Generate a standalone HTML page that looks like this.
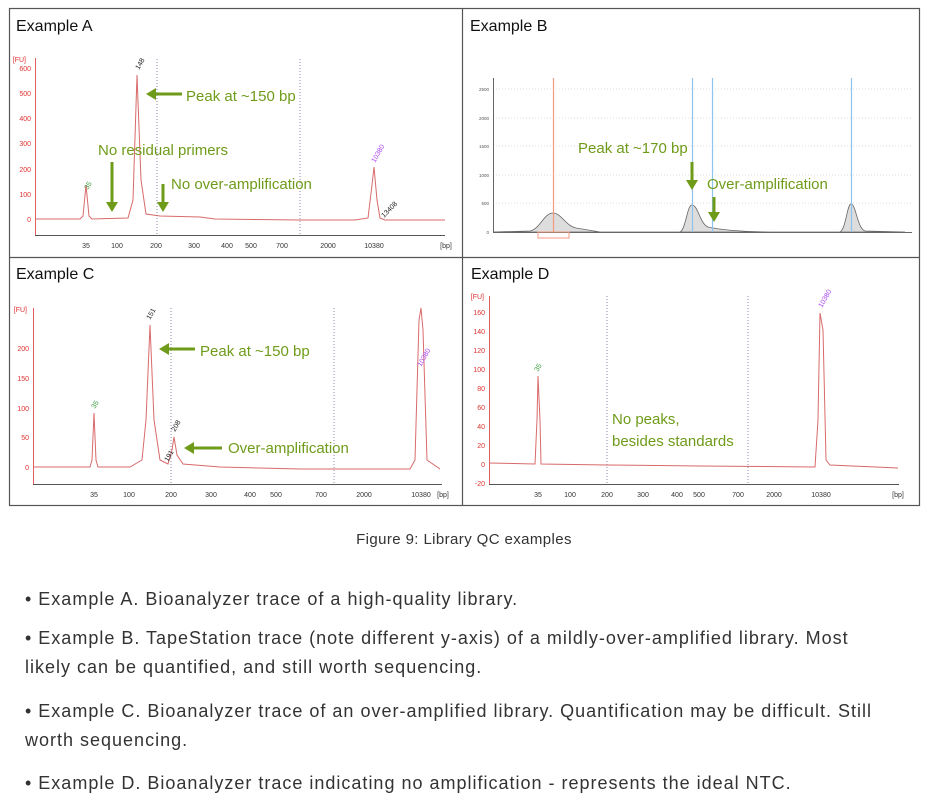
<!DOCTYPE html>
<html><head><meta charset="utf-8"><style>
body{margin:0;background:#fff;width:936px;height:807px;overflow:hidden;font-family:"Liberation Sans",sans-serif;}
.cap{position:absolute;left:0;width:928px;top:531px;text-align:center;font-size:15px;letter-spacing:0.4px;color:#333;}
.b{position:absolute;left:25px;font-size:18px;letter-spacing:1px;color:#333;line-height:29px;width:860px;}
</style></head><body>
<svg width="936" height="520" style="position:absolute;left:0;top:0" font-family="Liberation Sans, sans-serif">
<g fill="none" stroke="#555" stroke-width="1.2">
<rect x="9.5" y="8.5" width="910" height="497"/>
<line x1="462.5" y1="8" x2="462.5" y2="505"/>
<line x1="9" y1="257.5" x2="919" y2="257.5"/>
</g>
<g font-size="16" fill="#111">
<text x="16" y="31">Example A</text><text x="470" y="31">Example B</text>
<text x="16" y="279">Example C</text><text x="471" y="279">Example D</text>
</g>
<!-- A -->
<g stroke="#e06060" stroke-width="1"><line x1="35.5" y1="58" x2="35.5" y2="235"/><line x1="35" y1="235.5" x2="445" y2="235.5" stroke="#555"/></g>
<g font-size="7" fill="#e03030" text-anchor="end"><text x="31" y="71">600</text><text x="31" y="96">500</text><text x="31" y="121">400</text><text x="31" y="146">300</text><text x="31" y="172">200</text><text x="31" y="197">100</text><text x="31" y="222">0</text><text x="26" y="62">[FU]</text></g>
<g font-size="7" fill="#333" text-anchor="middle"><text x="86" y="248">35</text><text x="117" y="248">100</text><text x="156" y="248">200</text><text x="194" y="248">300</text><text x="227" y="248">400</text><text x="251" y="248">500</text><text x="282" y="248">700</text><text x="328" y="248">2000</text><text x="374" y="248">10380</text><text x="446" y="248">[bp]</text></g>
<g stroke="#88a" stroke-dasharray="1,2"><line x1="157" y1="59" x2="157" y2="235"/><line x1="300" y1="59" x2="300" y2="235"/></g>
<path d="M35 219 L80 219 L83 216 L86 185 L89 216 L92 219 L128 218 L133 200 L137 75 L141 180 L146 214 L160 216 L200 217 L215 219 L300 220 L355 220 L368 218 L372 185 L374 167 L377 200 L380 218 L385 220 L445 220" fill="none" stroke="#d86a6a" stroke-width="1"/>
<text x="139" y="70" font-size="7" fill="#222" transform="rotate(-60 139 70)">148</text>
<text x="88" y="190" font-size="7" fill="#393" transform="rotate(-60 88 190)">35</text>
<text x="375" y="163" font-size="7" fill="#a4e" transform="rotate(-60 375 163)">10380</text>
<text x="384" y="218" font-size="7" fill="#222" transform="rotate(-45 384 218)">13408</text>
<g fill="#6f9b1a" font-size="15"><text x="186" y="101">Peak at ~150 bp</text><text x="98" y="155">No residual primers</text><text x="171" y="189">No over-amplification</text></g>
<g stroke="#6f9b1a" stroke-width="3" fill="#6f9b1a"><line x1="182" y1="94" x2="154" y2="94"/><path d="M146 94 L156 88 L156 100Z" stroke="none"/>
<line x1="112" y1="162" x2="112" y2="204"/><path d="M112 212 L106 202 L118 202Z" stroke="none"/>
<line x1="163" y1="184" x2="163" y2="205"/><path d="M163 212 L157 202 L169 202Z" stroke="none"/></g>
<!-- B -->
<g stroke="#ddd" stroke-dasharray="1,2"><line x1="493" y1="89" x2="912" y2="89"/><line x1="493" y1="118" x2="912" y2="118"/><line x1="493" y1="146" x2="912" y2="146"/><line x1="493" y1="175" x2="912" y2="175"/><line x1="493" y1="203" x2="912" y2="203"/></g>
<g stroke="#666"><line x1="493.5" y1="78" x2="493.5" y2="232"/><line x1="493" y1="232.5" x2="912" y2="232.5"/></g>
<g font-size="4.5" fill="#555" text-anchor="end"><text x="489" y="91">2500</text><text x="489" y="120">2000</text><text x="489" y="148">1500</text><text x="489" y="177">1000</text><text x="489" y="205">500</text><text x="489" y="234">0</text></g>
<path d="M493 232 L530 231 C540 229 544 213 553 213 C561 213 566 226 576 228 L600 232 L680 232 C686 229 687 205 692 205 C698 205 700 224 708 227 C716 229 740 232 770 232 L840 232 C846 229 847 204 851 204 C856 204 857 228 865 231 L905 232Z" fill="#ddd" stroke="#666" stroke-width="0.8"/>
<g stroke-width="1.2"><line x1="553.5" y1="78" x2="553.5" y2="232" stroke="#f49a80"/><line x1="692.5" y1="78" x2="692.5" y2="232" stroke="#8cc4ee"/><line x1="712.5" y1="78" x2="712.5" y2="232" stroke="#8cc4ee"/><line x1="851.5" y1="78" x2="851.5" y2="232" stroke="#8cc4ee"/></g>
<rect x="538" y="232" width="31" height="6" fill="none" stroke="#f49a80"/>
<g fill="#6f9b1a" font-size="15"><text x="578" y="153">Peak at ~170 bp</text><text x="707" y="189">Over-amplification</text></g>
<g stroke="#6f9b1a" stroke-width="3" fill="#6f9b1a"><line x1="692" y1="162" x2="692" y2="182"/><path d="M692 190 L686 180 L698 180Z" stroke="none"/>
<line x1="714" y1="197" x2="714" y2="214"/><path d="M714 222 L708 212 L720 212Z" stroke="none"/></g>
<!-- C -->
<g stroke="#e06060"><line x1="33.5" y1="308" x2="33.5" y2="484"/></g><line x1="33" y1="484.5" x2="442" y2="484.5" stroke="#555"/>
<g font-size="7" fill="#e03030" text-anchor="end"><text x="29" y="351">200</text><text x="29" y="381">150</text><text x="29" y="411">100</text><text x="29" y="440">50</text><text x="29" y="470">0</text><text x="27" y="312">[FU]</text></g>
<g font-size="7" fill="#333" text-anchor="middle"><text x="94" y="497">35</text><text x="129" y="497">100</text><text x="171" y="497">200</text><text x="211" y="497">300</text><text x="250" y="497">400</text><text x="276" y="497">500</text><text x="321" y="497">700</text><text x="364" y="497">2000</text><text x="421" y="497">10380</text><text x="443" y="497">[bp]</text></g>
<g stroke="#88a" stroke-dasharray="1,2"><line x1="171" y1="308" x2="171" y2="484"/><line x1="334" y1="308" x2="334" y2="484"/></g>
<path d="M33 467 L90 467 L92 460 L94 413 L96 460 L98 467 L130 467 L142 460 L146 420 L150 325 L154 420 L160 460 L168 464 L172 450 L174 437 L177 455 L183 464 L220 467 L300 469 L410 469 L415 460 L419 320 L421 308 L423 330 L427 460 L440 469" fill="none" stroke="#d86a6a" stroke-width="1"/>
<text x="150" y="320" font-size="7" fill="#222" transform="rotate(-60 150 320)">151</text>
<text x="175" y="432" font-size="7" fill="#222" transform="rotate(-60 175 432)">208</text>
<text x="168" y="462" font-size="7" fill="#222" transform="rotate(-60 168 462)">191</text>
<text x="95" y="409" font-size="7" fill="#393" transform="rotate(-60 95 409)">35</text>
<text x="421" y="367" font-size="7" fill="#a4e" transform="rotate(-60 421 367)">10380</text>
<g fill="#6f9b1a" font-size="15"><text x="200" y="356">Peak at ~150 bp</text><text x="228" y="453">Over-amplification</text></g>
<g stroke="#6f9b1a" stroke-width="3" fill="#6f9b1a"><line x1="195" y1="349" x2="167" y2="349"/><path d="M159 349 L169 343 L169 355Z" stroke="none"/>
<line x1="222" y1="448" x2="192" y2="448"/><path d="M184 448 L194 442 L194 454Z" stroke="none"/></g>
<!-- D -->
<line x1="489.5" y1="296" x2="489.5" y2="484" stroke="#e06060"/><line x1="489" y1="484.5" x2="899" y2="484.5" stroke="#555"/>
<g font-size="7" fill="#e03030" text-anchor="end"><text x="485" y="315">160</text><text x="485" y="334">140</text><text x="485" y="353">120</text><text x="485" y="372">100</text><text x="485" y="391">80</text><text x="485" y="410">60</text><text x="485" y="429">40</text><text x="485" y="448">20</text><text x="485" y="467">0</text><text x="485" y="486">-20</text><text x="484" y="299">[FU]</text></g>
<g font-size="7" fill="#333" text-anchor="middle"><text x="538" y="497">35</text><text x="570" y="497">100</text><text x="607" y="497">200</text><text x="643" y="497">300</text><text x="677" y="497">400</text><text x="699" y="497">500</text><text x="738" y="497">700</text><text x="774" y="497">2000</text><text x="821" y="497">10380</text><text x="898" y="497">[bp]</text></g>
<g stroke="#88a" stroke-dasharray="1,2"><line x1="607" y1="296" x2="607" y2="484"/><line x1="748" y1="296" x2="748" y2="484"/></g>
<path d="M489 463 L535 464 L537 420 L538 376 L540 420 L541 464 L607 465 L700 466 L815 467 L818 420 L820 313 L823 330 L826 460 L830 465 L898 468" fill="none" stroke="#d86a6a" stroke-width="1"/>
<text x="538" y="372" font-size="7" fill="#393" transform="rotate(-60 538 372)">35</text>
<text x="822" y="308" font-size="7" fill="#a4e" transform="rotate(-60 822 308)">10380</text>
<g fill="#6f9b1a" font-size="15"><text x="612" y="424">No peaks,</text><text x="612" y="446">besides standards</text></g>
</svg>
<div class="cap">Figure 9: Library QC examples</div>
<div class="b" style="top:585px">• Example A. Bioanalyzer trace of a high-quality library.</div>
<div class="b" style="top:624px">• Example B. TapeStation trace (note different y-axis) of a mildly-over-amplified library. Most likely can be quantified, and still worth sequencing.</div>
<div class="b" style="top:697px">• Example C. Bioanalyzer trace of an over-amplified library. Quantification may be difficult. Still worth sequencing.</div>
<div class="b" style="top:769px">• Example D. Bioanalyzer trace indicating no amplification - represents the ideal NTC.</div>
</body></html>
